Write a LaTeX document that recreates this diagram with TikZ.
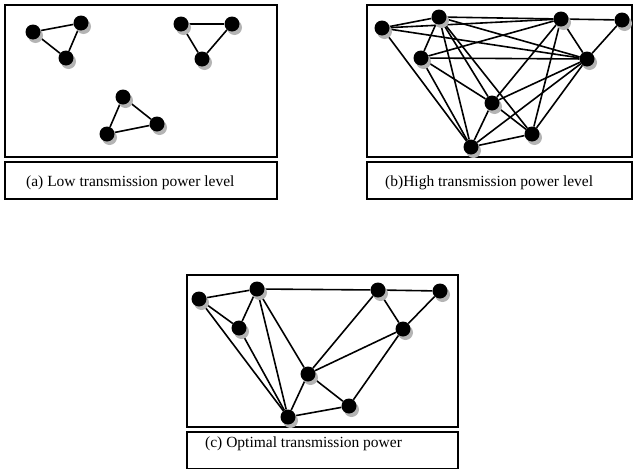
\documentclass[tikz,border=0pt]{standalone}
\usepackage{fontspec}
\setmainfont{Liberation Serif}
\usetikzlibrary{shadows,backgrounds}
\definecolor{ink}{HTML}{000000}
\definecolor{shade}{HTML}{B4B4B4}
\tikzset{
  mote/.style={circle,fill=ink,inner sep=0pt,minimum size=15pt,
    drop shadow={shadow xshift=2.5pt,shadow yshift=-3.5pt,fill=shade,opacity=1}},
  link/.style={line width=1.6pt},
  frame/.style={line width=1.8pt},
  caption/.style={anchor=west,inner sep=0pt,font=\fontsize{15.5}{17}\selectfont}
}
\begin{document}
\begin{tikzpicture}[x=1pt,y=-1pt]
  \useasboundingbox (0,0) rectangle (633,469);
  % frames
  \draw[frame] (5,5) rectangle (277,157);
  \draw[frame] (5,162) rectangle (277,199);
  \draw[frame] (367,5) rectangle (632,157);
  \draw[frame] (367,162) rectangle (632,199);
  \draw[frame] (187,275) rectangle (458,427);
  \draw[frame] (187,432) rectangle (458,468.5);
  \node[caption] (capa) at (26,183) {(a) Low transmission power level};
  \node[caption] (capb) at (385,183) {(b)High transmission power level};
  \node[caption] (capc) at (205,444) {(c) Optimal transmission power};
  % low power
  \foreach \n/\x/\y in {1/33/32, 2/81/23, 3/66/58, 4/181/24, 5/232/24, 6/202/59,
                        7/123/97, 8/157/124, 9/107/134}{
    \node[mote] (a\n) at (\x,\y) {};
  }
  % high power
  \foreach \n/\x/\y in {1/382/28, 2/439/17, 3/561/19, 4/622/20, 5/421/58, 6/587/59,
                        7/492/103, 8/532/134, 9/471/147}{
    \node[mote] (b\n) at (\x,\y) {};
  }
  % optimal power
  \foreach \n/\x/\y in {1/199/299, 2/257/289, 3/378/290, 4/440/291, 5/239/328, 6/403/329,
                        7/308/374, 8/349/406, 9/288/417}{
    \node[mote] (c\n) at (\x,\y) {};
  }
  \begin{scope}[on background layer]
    \foreach \s/\t in {1/2, 2/3, 3/1, 4/5, 5/6, 6/4, 7/8, 8/9, 9/7}
      \draw[link] (a\s) -- (a\t);
    \foreach \s/\t in {1/2, 1/3, 1/6, 1/9, 2/3, 2/5, 2/6, 2/7, 2/8, 2/9,
                       3/4, 3/5, 3/6, 3/7, 3/8, 4/6, 5/6, 5/7, 5/9,
                       6/7, 6/8, 6/9, 7/8, 7/9, 8/9}
      \draw[link] (b\s) -- (b\t);
    \foreach \s/\t in {1/2, 2/3, 3/4, 1/5, 1/9, 2/5, 5/9, 2/9, 2/7,
                       3/7, 3/6, 4/6, 6/7, 6/8, 7/8, 7/9, 8/9}
      \draw[link] (c\s) -- (c\t);
  \end{scope}
\end{tikzpicture}
\end{document}
